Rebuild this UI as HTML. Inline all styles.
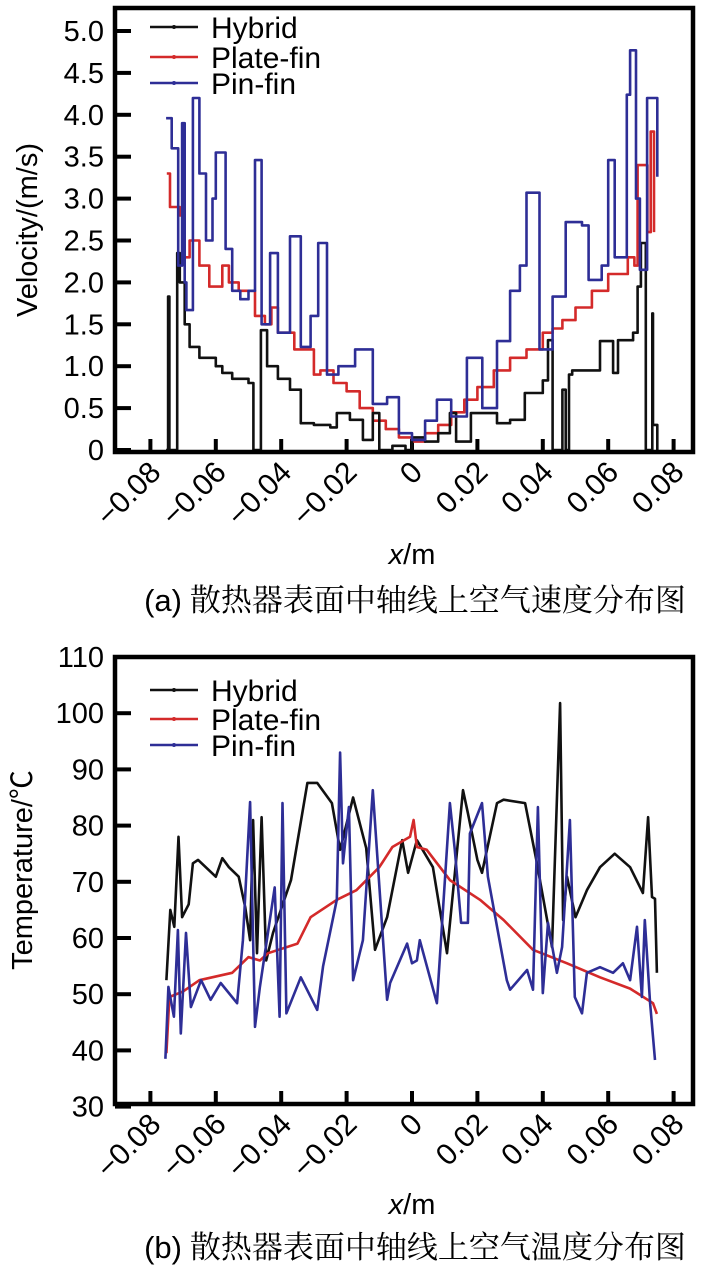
<!DOCTYPE html>
<html><head><meta charset="utf-8">
<style>
body{margin:0;background:#fff;}
svg{display:block;font-family:"Liberation Sans","Noto Sans CJK SC",sans-serif;}
</style></head>
<body>
<svg id="s" width="714" height="1270" viewBox="0 0 714 1270" xmlns="http://www.w3.org/2000/svg"></svg>
<script>
// ---------- data: velocity chart ----------
const xTicks = [-0.08,-0.06,-0.04,-0.02,0,0.02,0.04,0.06,0.08];
const xTickLabels = ["−0.08","−0.06","−0.04","−0.02","0","0.02","0.04","0.06","0.08"];
const vTicks = [0,0.5,1,1.5,2,2.5,3,3.5,4,4.5,5];
const vTickLabels = ["0","0.5","1.0","1.5","2.0","2.5","3.0","3.5","4.0","4.5","5.0"];
const vPlateX = [-0.075,-0.074,-0.071,-0.070,-0.068,-0.065,-0.062,-0.058,-0.056,-0.053,-0.048,-0.045,-0.043,-0.041,-0.036,-0.030,-0.028,-0.024,-0.020,-0.016,-0.012,-0.008,-0.004,0,0.004,0.008,0.012,0.016,0.020,0.025,0.030,0.035,0.040,0.043,0.046,0.050,0.055,0.060,0.066,0.068,0.069,0.072,0.073,0.074];
const vPlateY = [3.3,2.9,2.8,2.3,2.5,2.2,1.95,2.2,2.0,1.9,1.6,1.5,1.7,1.4,1.2,0.9,0.95,0.8,0.7,0.5,0.35,0.25,0.15,0.1,0.2,0.3,0.45,0.6,0.75,0.95,1.1,1.2,1.4,1.45,1.55,1.7,1.9,2.1,2.3,2.2,3.4,2.6,3.8,2.6];
const vPinX = [-0.0752,-0.0735,-0.0715,-0.0703,-0.0695,-0.069,-0.067,-0.065,-0.063,-0.061,-0.060,-0.057,-0.055,-0.0525,-0.050,-0.048,-0.046,-0.0434,-0.041,-0.0373,-0.034,-0.031,-0.0287,-0.026,-0.0225,-0.0174,-0.012,-0.0076,-0.004,0,0.004,0.0076,0.012,0.0168,0.0215,0.026,0.030,0.033,0.035,0.039,0.043,0.047,0.052,0.054,0.058,0.060,0.062,0.0657,0.0667,0.0685,0.0697,0.0719,0.0737,0.075];
const vPinY = [3.96,3.6,2.2,3.9,2.0,1.67,4.2,3.3,2.5,3.0,3.55,2.4,1.9,1.8,1.9,3.46,1.5,2.35,1.4,2.55,1.23,1.6,2.47,0.9,1.0,1.2,0.55,0.63,0.2,0.12,0.35,0.6,0.4,1.1,0.5,1.3,1.9,2.2,3.07,1.2,1.83,2.72,2.68,2.03,2.2,3.46,2.3,4.24,4.77,3.0,2.15,4.2,4.2,3.26];
const vHybX = [-0.0752,-0.0748,-0.0746,-0.0742,-0.0725,-0.0718,-0.071,-0.0695,-0.068,-0.065,-0.060,-0.058,-0.055,-0.050,-0.0485,-0.0478,-0.0462,-0.0443,-0.041,-0.0373,-0.034,-0.030,-0.025,-0.023,-0.019,-0.015,-0.012,-0.010,-0.006,-0.002,0,0.004,0.008,0.0116,0.0135,0.018,0.021,0.026,0.030,0.034,0.0345,0.040,0.0416,0.043,0.045,0.046,0.047,0.048,0.049,0.054,0.0575,0.0615,0.063,0.0676,0.069,0.070,0.0715,0.072,0.0735,0.0737,0.075];
const vHybY = [0,0,1.83,0,0,2.35,2.0,1.5,1.23,1.1,1.0,0.92,0.85,0.8,0,0,1.43,1.0,0.85,0.72,0.32,0.3,0.27,0.44,0.36,0.12,0.44,0,0.05,0,0.15,0.1,0.2,0.44,0.1,0.44,0.44,0.32,0.36,0.36,0.68,0.83,1.31,0,0,0.72,0,0.9,0.95,0.95,1.3,0.92,1.31,1.4,1.95,2.47,0,0,1.63,0.3,0];

// ---------- data: temperature chart ----------
const tTicks = [30,40,50,60,70,80,90,100,110];
const tTickLabels = ["30","40","50","60","70","80","90","100","110"];
const tHybX = [-0.0751,-0.0739,-0.0727,-0.0714,-0.0703,-0.0683,-0.067,-0.0654,-0.060,-0.058,-0.056,-0.053,-0.051,-0.0495,-0.0486,-0.0474,-0.046,-0.0446,-0.0425,-0.037,-0.032,-0.029,-0.0245,-0.022,-0.018,-0.014,-0.0113,-0.0076,-0.003,-0.0012,0.0015,0.0064,0.0107,0.0156,0.0171,0.020,0.0214,0.026,0.028,0.0346,0.038,0.0428,0.0453,0.0462,0.0474,0.050,0.0535,0.0575,0.062,0.0667,0.0706,0.0722,0.0734,0.0743,0.0749];
const tHybY = [52.5,65,62,78,63.7,66,73.3,73.9,70.9,74.2,72.6,70.9,65.5,59.6,81,57.3,81.5,56,60.9,70.3,87.6,87.6,84,75.7,85,76,57.9,63.7,77.4,71.6,77.4,72.6,57.3,86.3,82.2,73.9,71.6,84,84.6,84,73.9,58.4,101.8,63.2,70.9,63.7,68.5,72.6,75,72.6,68,81.5,67.3,67,53.8];
const tPlateX = [-0.0751,-0.0742,-0.070,-0.065,-0.055,-0.050,-0.0465,-0.044,-0.035,-0.031,-0.023,-0.017,-0.010,-0.006,-0.0006,0.0005,0.0015,0.0045,0.0116,0.0208,0.028,0.037,0.0474,0.0575,0.0667,0.0737,0.0749];
const tPlateY = [39.5,49.5,50.5,52.5,53.8,56.6,56,57.3,59,63.7,66.8,68.5,72.6,76.2,78,81,76.2,75.7,70.3,66.8,63.2,57.9,55.5,53,51,48.4,46.5];
const tPinX = [-0.0754,-0.0745,-0.0728,-0.0716,-0.0707,-0.0691,-0.0676,-0.0645,-0.0616,-0.0585,-0.0535,-0.0517,-0.0495,-0.048,-0.0465,-0.042,-0.0405,-0.0396,-0.0384,-0.034,-0.029,-0.0272,-0.023,-0.022,-0.0211,-0.0193,-0.018,-0.015,-0.012,-0.0076,-0.0067,-0.0015,0,0.0015,0.0024,0.0076,0.0116,0.0131,0.015,0.0171,0.0177,0.0214,0.0232,0.029,0.030,0.0352,0.037,0.0385,0.040,0.0416,0.0443,0.0459,0.0483,0.0498,0.052,0.0535,0.0575,0.0615,0.0645,0.0667,0.0688,0.0703,0.0712,0.0728,0.0743];
const tPinY = [38.5,51.3,46,61.4,43,60.9,47.7,52.5,49,52,48.4,59.6,84.2,44.2,51.3,69,46,84,46.6,53,47.2,55,66.8,93,73.3,83.3,52.5,59.6,86.3,49,52,59,55.5,56,59.6,48.4,84,75.7,62.7,62.7,78.6,84,70.9,52.5,50.8,54.3,50.8,83.3,50.2,62.7,53.8,58.4,81,49.5,46.6,53.8,54.8,53.8,55.5,52.5,62,49.5,63.2,48.4,38.3];

// ---------- drawing ----------
const NS="http://www.w3.org/2000/svg";
const svg=document.getElementById('s');
function mk(tag,attrs,parent){const e=document.createElementNS(NS,tag);for(const k in attrs)e.setAttribute(k,attrs[k]);(parent||svg).appendChild(e);return e;}
const X0=412, XS=3270;
function xScale(v){return X0+v*XS;}
function vScale(v){return 450-v*83.8;}
function tScale(v){return 657+(110-v)*5.62;}

function drawChart(cfg){
  const g=mk('g',{});
  
  
  cfg.yTicks.forEach((t,i)=>{
    const y=cfg.yS(t);
    const tk=mk('line',{x1:115,x2:131,y1:y,y2:y,stroke:'#000','stroke-width':4},g);
    
    
    const lb=mk('text',{x:104,y:y+10,'text-anchor':'end','font-size':29,fill:'#000'},g);
    lb.textContent=cfg.yLabels[i];
    
    
  });
  xTicks.forEach((t,i)=>{
    const x=xScale(t);
    const tk=mk('line',{x1:x,x2:x,y1:cfg.bottom,y2:cfg.bottom-13,stroke:'#000','stroke-width':4},g);
    
    
    const ty=cfg.bottom+22;
    const lb=mk('text',{x:x+12,y:ty,'text-anchor':'end','font-size':30,fill:'#000',transform:`rotate(-45 ${x+12} ${ty})`},g);
    lb.textContent=xTickLabels[i];
    
    
  });
  cfg.series.forEach(s=>{
    let pts=[];
    for(let i=0;i<s.x.length;i++){
      const px=xScale(s.x[i]), py=cfg.yS(s.y[i]);
      if(s.step && i>0) pts.push(px.toFixed(1)+','+cfg.yS(s.y[i-1]).toFixed(1));
      pts.push(px.toFixed(1)+','+py.toFixed(1));
    }
    const p=mk('polyline',{points:pts.join(' '),fill:'none',stroke:s.color,'stroke-width':2.6,'stroke-linejoin':'round'},g);
    
    
  });
  const fr=mk('rect',{x:115,y:cfg.top,width:578,height:cfg.bottom-cfg.top,fill:'none',stroke:'#000','stroke-width':4.5},g);
  
  
  const names=['Hybrid','Plate-fin','Pin-fin'], cols=['#111','#d42a2a','#2e2e96'];
  names.forEach((n,i)=>{
    const y=cfg.legY[i];
    const le=mk('g',{},g);
    
    
    mk('line',{x1:150,x2:198,y1:y,y2:y,stroke:cols[i],'stroke-width':2.4},le);
    mk('circle',{cx:174,cy:y,r:2,fill:cols[i]},le);
    const t=mk('text',{x:211,y:y+11,'font-size':30,fill:'#000'},le);
    t.textContent=n;
  });
  const yt=mk('text',{x:cfg.yTitleX,y:cfg.yTitleY,'text-anchor':'middle','font-size':29,fill:'#000',transform:`rotate(-90 ${cfg.yTitleX} ${cfg.yTitleY})`},g);
  yt.textContent=cfg.yTitle;
  
  
  const xt=mk('text',{x:412,y:cfg.xTitleY,'text-anchor':'middle','font-size':29,fill:'#000'},g);
  xt.innerHTML='<tspan font-style="italic">x</tspan>/m';
  
  
  const cap=mk('text',{x:415,y:cfg.capY,'text-anchor':'middle','font-size':31,fill:'#000'},g);
  cap.innerHTML='<tspan font-family="Liberation Sans">'+cfg.capA+'</tspan><tspan style="font-family:\'Noto Serif CJK SC\',serif"> '+cfg.capB+'</tspan>';
  
  
}

drawChart({name:'velocity-chart',top:8,bottom:452,yS:vScale,yTicks:vTicks,yLabels:vTickLabels,
  legY:[27,57,83],yTitle:'Velocity/(m/s)',yTitleX:37,yTitleY:230,xTitleY:564,capY:611,
  capA:'(a)',capB:'散热器表面中轴线上空气速度分布图',
  series:[
    {name:'plate-fin-velocity-line',x:vPlateX,y:vPlateY,color:'#d42a2a',step:true},
    {name:'hybrid-velocity-line',x:vHybX,y:vHybY,color:'#111',step:true},
    {name:'pin-fin-velocity-line',x:vPinX,y:vPinY,color:'#2e2e96',step:true}
  ]});
drawChart({name:'temperature-chart',top:657,bottom:1104,yS:tScale,yTicks:tTicks,yLabels:tTickLabels,
  legY:[690,719,745],yTitle:'Temperature/℃',yTitleX:32,yTitleY:870,xTitleY:1214,capY:1258,
  capA:'(b)',capB:'散热器表面中轴线上空气温度分布图',
  series:[
    {name:'hybrid-temperature-line',x:tHybX,y:tHybY,color:'#111'},
    {name:'plate-fin-temperature-line',x:tPlateX,y:tPlateY,color:'#d42a2a'},
    {name:'pin-fin-temperature-line',x:tPinX,y:tPinY,color:'#2e2e96'}
  ]});
</script>
</body></html>
